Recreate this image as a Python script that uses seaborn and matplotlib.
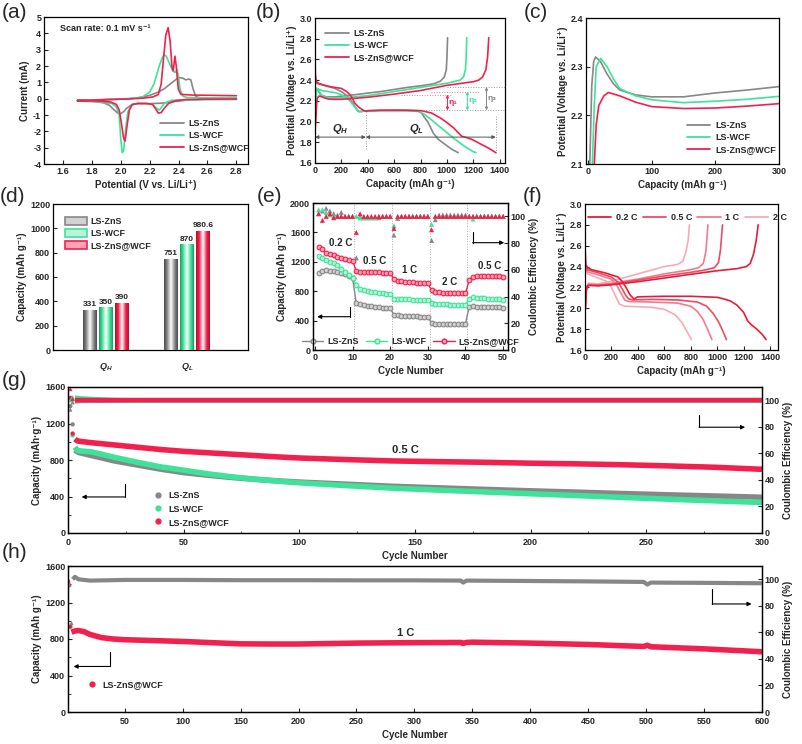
import numpy as np
import pandas as pd
import seaborn as sns
import matplotlib.pyplot as plt
from matplotlib.colors import LinearSegmentedColormap
from matplotlib.patches import Patch
from matplotlib.lines import Line2D
from matplotlib.ticker import MultipleLocator

# sample names and colours
samples = ["LS-ZnS", "LS-WCF", "LS-ZnS@WCF"]
GRAY, GREEN, RED = "#878787", "#3ee29a", "#f2204c"
GRAY_L, GREEN_L, RED_L = "#d2d2d2", "#b8f5d8", "#ffa3b4"
rate_labels = ["0.2 C", "0.5 C", "1 C", "2 C"]
RATE_COLORS = ["#e51d3a", "#ec4b62", "#f27b8d", "#f7aab6"]

# (a) CV loops, cathodic scan then anodic scan
cv_zns_v = [2.8, 2.6, 2.45, 2.35, 2.28, 2.2, 2.12, 2.07, 2.04, 2.02, 2.0, 1.98, 1.95, 1.92, 1.88, 1.8, 1.7,
            1.7, 1.9, 2.05, 2.12, 2.2, 2.26, 2.3, 2.35, 2.4, 2.43, 2.45, 2.47, 2.485, 2.5, 2.52, 2.56, 2.65, 2.8]
cv_zns_i = [0.0, -0.02, -0.1, -0.2, -0.28, -0.3, -0.28, -0.4, -0.6, -0.8, -0.92, -0.88, -0.65, -0.4, -0.25, -0.15, -0.1,
            -0.1, -0.05, 0.0, 0.05, 0.2, 0.4, 0.6, 0.95, 1.3, 1.25, 1.15, 1.2, 1.15, 0.6, 0.12, 0.03, 0.0, 0.0]
cv_wcf_v = [2.8, 2.5, 2.35, 2.3, 2.28, 2.265, 2.25, 2.22, 2.18, 2.12, 2.08, 2.05, 2.035, 2.02, 2.01, 2.0, 1.99, 1.97, 1.94, 1.85, 1.7,
            1.7, 1.9, 2.05, 2.15, 2.2, 2.23, 2.25, 2.27, 2.29, 2.3, 2.315, 2.33, 2.345, 2.36, 2.375, 2.39, 2.4, 2.41, 2.43, 2.46, 2.6, 2.8]
cv_wcf_i = [-0.05, -0.07, -0.1, -0.3, -0.55, -0.7, -0.6, -0.35, -0.3, -0.3, -0.35, -0.8, -1.8, -3.2, -3.3, -2.4, -1.0, -0.5, -0.3, -0.2, -0.15,
            -0.15, -0.06, -0.02, 0.1, 0.4, 0.9, 1.5, 2.1, 2.55, 2.7, 2.6, 2.3, 2.0, 1.7, 1.6, 1.8, 1.3, 0.6, 0.15, 0.07, 0.05, 0.05]
cv_ws_v = [2.8, 2.6, 2.45, 2.38, 2.33, 2.3, 2.28, 2.26, 2.24, 2.22, 2.18, 2.12, 2.08, 2.06, 2.045, 2.03, 2.02, 2.005, 1.99, 1.97, 1.93, 1.85, 1.7,
           1.7, 1.9, 2.05, 2.15, 2.22, 2.26, 2.28, 2.296, 2.312, 2.328, 2.342, 2.354, 2.363, 2.375, 2.384, 2.398, 2.416, 2.5, 2.65, 2.8]
cv_ws_i = [-0.02, -0.03, -0.05, -0.12, -0.3, -0.6, -0.85, -0.88, -0.6, -0.35, -0.3, -0.3, -0.35, -0.7, -1.6, -2.6, -2.4, -1.5, -0.7, -0.35, -0.2, -0.15, -0.12,
           -0.12, -0.06, -0.02, 0.03, 0.1, 0.25, 0.9, 2.45, 3.9, 4.35, 3.5, 2.0, 1.7, 2.6, 2.0, 0.6, 0.26, 0.22, 0.2, 0.18]

# (b)/(c) charge and discharge profiles at 0.2 C
chg_zns_q = [0, 3, 6, 9, 12, 20, 30, 40, 50, 75, 100, 150, 200, 250, 300, 400, 500, 600, 700, 800, 900, 950, 980, 995, 1000, 1005]
chg_zns_v = [1.95, 2.1, 2.26, 2.31, 2.32, 2.31, 2.285, 2.265, 2.252, 2.242, 2.238, 2.238, 2.246, 2.252, 2.259, 2.275, 2.29, 2.31, 2.33, 2.345, 2.365, 2.39, 2.43, 2.5, 2.62, 2.81]
chg_wcf_q = [0, 7, 10, 13, 20, 30, 40, 50, 75, 100, 150, 200, 250, 300, 400, 600, 800, 1000, 1100, 1125, 1140, 1146, 1150]
chg_wcf_v = [1.95, 2.1, 2.22, 2.3, 2.317, 2.3, 2.275, 2.255, 2.24, 2.232, 2.226, 2.229, 2.233, 2.239, 2.25, 2.29, 2.33, 2.37, 2.4, 2.43, 2.5, 2.62, 2.81]
chg_ws_q = [0, 10, 13, 17, 25, 32, 50, 75, 100, 150, 200, 250, 300, 400, 600, 800, 1000, 1200, 1240, 1270, 1295, 1308, 1317]
chg_ws_v = [1.9, 2.1, 2.18, 2.22, 2.24, 2.247, 2.24, 2.227, 2.218, 2.214, 2.215, 2.219, 2.224, 2.235, 2.265, 2.3, 2.35, 2.385, 2.4, 2.43, 2.5, 2.62, 2.81]
dis_zns_q = [0, 3, 10, 50, 100, 150, 200, 250, 280, 310, 330, 360, 500, 700, 780, 807, 830, 858, 896, 933, 996, 1040, 1085]
dis_zns_v = [2.42, 2.39, 2.37, 2.355, 2.34, 2.32, 2.29, 2.24, 2.19, 2.13, 2.095, 2.1, 2.105, 2.105, 2.1, 2.083, 2.04, 1.99, 1.89, 1.83, 1.77, 1.73, 1.70]
dis_wcf_q = [0, 3, 10, 50, 100, 150, 200, 250, 290, 320, 345, 400, 600, 780, 832, 870, 908, 984, 1060, 1135, 1198, 1220]
dis_wcf_v = [2.36, 2.33, 2.32, 2.30, 2.29, 2.28, 2.26, 2.22, 2.16, 2.11, 2.095, 2.105, 2.11, 2.105, 2.067, 2.03, 1.99, 1.91, 1.83, 1.76, 1.71, 1.70]
dis_ws_q = [0, 3, 10, 25, 50, 100, 150, 200, 240, 265, 285, 300, 330, 365, 385, 400, 500, 600, 700, 807, 883, 951, 1000, 1050, 1110, 1186, 1261, 1320, 1370]
dis_ws_v = [2.6, 2.45, 2.39, 2.37, 2.36, 2.34, 2.33, 2.32, 2.29, 2.26, 2.22, 2.18, 2.14, 2.11, 2.10, 2.105, 2.11, 2.11, 2.11, 2.105, 2.083, 2.034, 1.99, 1.94, 1.86, 1.83, 1.78, 1.74, 1.70]

# (d) plateau capacities
bar_group = ["QH", "QH", "QH", "QL", "QL", "QL"]
bar_sample = samples * 2
bar_cap = [331, 350, 390, 751, 870, 980.6]
bar_text = ["331", "350", "390", "751", "870", "980.6"]

# (e) rate performance
e_cycles = list(range(1, 51))
e_cap_zns = [1045, 1070, 1085, 1080, 1075, 1060, 1050, 1030, 1010, 975,
             640, 620, 610, 600, 595, 590, 580, 575, 570, 565,
             480, 470, 465, 462, 460, 458, 456, 455, 453, 452,
             365, 360, 355, 352, 350, 350, 350, 352, 355, 358,
             590, 592, 590, 588, 586, 585, 583, 582, 580, 578]
e_cap_wcf = [1285, 1250, 1225, 1200, 1180, 1150, 1100, 1060, 1020, 980,
             880, 830, 815, 805, 795, 790, 780, 775, 768, 760,
             700, 695, 692, 690, 688, 686, 684, 682, 680, 678,
             640, 630, 625, 622, 620, 618, 616, 614, 612, 610,
             700, 715, 712, 710, 705, 700, 698, 695, 690, 685]
e_cap_ws = [1400, 1370, 1320, 1300, 1290, 1270, 1250, 1240, 1230, 1215,
            1075, 1065, 1060, 1060, 1058, 1056, 1055, 1054, 1052, 1050,
            960, 945, 935, 930, 925, 920, 915, 912, 908, 905,
            810, 795, 785, 780, 778, 775, 773, 772, 770, 770,
            950, 1000, 1005, 1005, 1005, 1004, 1004, 1003, 1002, 1000]
e_ce_zns = [102, 104, 106, 104, 102, 101, 103, 100, 100, 100,
            69, 100, 99, 99, 99, 99, 99, 100, 100, 100,
            86, 98.5, 100, 100, 100, 100, 100, 100, 100, 100,
            82, 97.5, 101, 101, 101, 101, 101, 101, 101, 101,
            100, 100, 100, 100, 100, 100, 100, 100, 100, 100]
e_ce_wcf = [105, 105, 103, 101, 100, 100, 100, 100, 100, 100,
            100, 99, 99, 99, 99, 99, 100, 100, 100, 100,
            93, 100, 100, 100, 100, 100, 100, 100, 100, 100,
            94, 100, 100, 100, 100, 100, 100, 100, 100, 100,
            100, 98, 100, 100, 100, 100, 100, 100, 100, 100]
e_ce_ws = [102, 97, 100, 102, 99, 100, 100, 100, 100, 100,
           88, 102, 100, 100, 100, 100, 100, 100, 100, 100,
           91, 100, 100, 100, 100, 100, 100, 100, 100, 100,
           90, 100, 100, 100, 100, 100, 100, 100, 100, 100,
           100, 100, 100, 100, 100, 100, 100, 100, 100, 100]
e_rate_text = ["0.2 C", "0.5 C", "1 C", "2 C", "0.5 C"]
e_rate_x = [6.9, 15.9, 25.2, 35.8, 46.5]
e_rate_y = [1460, 1215, 1090, 930, 1143]

# (f) LS-ZnS@WCF profiles at different rates
f02_chg_q = [0, 8, 15, 30, 100, 200, 400, 600, 800, 1000, 1150, 1220, 1250, 1275, 1295, 1310]
f02_chg_v = [1.95, 2.15, 2.21, 2.22, 2.215, 2.225, 2.255, 2.29, 2.326, 2.36, 2.38, 2.40, 2.43, 2.52, 2.65, 2.80]
f02_dis_q = [0, 5, 20, 50, 150, 250, 280, 310, 340, 370, 400, 600, 800, 1000, 1050, 1100, 1150, 1200, 1230, 1260, 1300, 1340, 1370]
f02_dis_v = [2.62, 2.42, 2.39, 2.37, 2.34, 2.30, 2.26, 2.2, 2.13, 2.09, 2.11, 2.115, 2.115, 2.105, 2.09, 2.07, 2.03, 1.96, 1.88, 1.84, 1.80, 1.75, 1.70]
f05_chg_q = [0, 10, 25, 100, 200, 400, 600, 800, 900, 980, 1010, 1025, 1040]
f05_chg_v = [1.95, 2.18, 2.22, 2.22, 2.23, 2.27, 2.31, 2.345, 2.365, 2.39, 2.44, 2.56, 2.80]
f05_dis_q = [0, 5, 20, 100, 200, 250, 280, 310, 330, 360, 500, 700, 850, 920, 970, 1010, 1040, 1070]
f05_dis_v = [2.55, 2.40, 2.37, 2.34, 2.30, 2.25, 2.19, 2.12, 2.09, 2.08, 2.085, 2.08, 2.06, 2.02, 1.95, 1.87, 1.79, 1.70]
f1_chg_q = [0, 10, 25, 100, 200, 400, 600, 800, 860, 895, 915, 930]
f1_chg_v = [1.95, 2.19, 2.23, 2.225, 2.24, 2.28, 2.33, 2.37, 2.39, 2.43, 2.55, 2.80]
f1_dis_q = [0, 5, 20, 100, 200, 240, 270, 300, 330, 500, 700, 800, 850, 890, 920, 960]
f1_dis_v = [2.5, 2.38, 2.35, 2.32, 2.28, 2.22, 2.15, 2.08, 2.065, 2.06, 2.05, 2.02, 1.97, 1.90, 1.82, 1.70]
f2_chg_q = [0, 10, 25, 100, 200, 400, 600, 700, 740, 765, 780, 790]
f2_chg_v = [1.95, 2.2, 2.24, 2.235, 2.26, 2.33, 2.40, 2.42, 2.45, 2.55, 2.65, 2.80]
f2_dis_q = [0, 5, 20, 100, 160, 200, 230, 260, 300, 500, 600, 680, 730, 770, 805]
f2_dis_v = [2.45, 2.36, 2.33, 2.29, 2.26, 2.20, 2.12, 2.04, 2.02, 2.01, 1.99, 1.94, 1.87, 1.78, 1.70]

# (g) long cycling at 0.5 C
g_cycles = [1, 2, 3, 4, 5, 10, 20, 30, 40, 50, 60, 70, 80, 90, 100, 120, 140, 160, 180, 200, 220, 240, 260, 280, 300]
g_cap_zns = [1390, 1190, 910, 890, 880, 850, 790, 745, 700, 662, 635, 610, 590, 572, 558, 535, 512, 495, 478, 462, 448, 432, 418, 405, 392]
g_cap_wcf = [1460, 1070, 940, 905, 900, 890, 830, 775, 725, 688, 650, 618, 592, 570, 550, 520, 492, 470, 450, 430, 410, 390, 370, 352, 335]
g_cap_ws = [1480, 1090, 1030, 1010, 1005, 990, 965, 940, 915, 895, 880, 865, 850, 835, 822, 805, 790, 782, 775, 765, 758, 748, 735, 720, 698]
g_ce_zns = [93, 98.5, 99, 99.3, 99.5, 99.6, 99.6, 99.6, 99.6, 99.6, 99.6, 99.6, 99.6, 99.6, 99.6, 99.6, 99.6, 99.6, 99.6, 99.6, 99.6, 99.6, 99.6, 99.6, 99.6]
g_ce_wcf = [100, 102.3, 102, 101.8, 101.5, 101, 100.2, 100, 100, 100, 100, 100, 100, 100, 100, 100, 100, 100, 100, 100, 100, 100, 100, 100, 100]
g_ce_ws = [108.5, 101, 100, 100, 100, 100, 100, 100, 100, 100, 100, 100, 100, 100, 100, 100, 100, 100, 100, 100, 100, 100, 100, 100, 100]

# (h) long cycling at 1 C
h_cycles = [1, 2, 3, 4, 5, 7, 10, 15, 20, 30, 40, 50, 75, 100, 125, 150, 175, 200, 250, 300, 340, 342, 345, 350, 400, 450, 498, 501, 504, 550, 600]
h_cap_ws = [1430, 1390, 935, 875, 880, 888, 893, 880, 850, 815, 800, 792, 783, 773, 760, 747, 745, 745, 755, 760, 762, 752, 762, 765, 755, 740, 718, 732, 715, 692, 660]
h_ce_cycles = [1, 2, 4, 5, 7, 10, 20, 50, 100, 150, 200, 250, 300, 340, 342, 345, 400, 450, 498, 501, 504, 550, 600]
h_ce_ws = [97, 96, 67, 100, 101.8, 100, 99, 99.5, 99.5, 99.3, 99.3, 99.2, 99.2, 99, 97.5, 99, 98.7, 98.4, 98, 96, 97.5, 97.3, 97]

sns.set_style("ticks")
plt.rcParams["font.family"] = ["Liberation Sans", "DejaVu Sans"]
plt.rcParams["font.weight"] = "bold"
plt.rcParams["axes.labelweight"] = "bold"
plt.rcParams["axes.unicode_minus"] = False
plt.rcParams["mathtext.fontset"] = "custom"
plt.rcParams["mathtext.it"] = "Liberation Sans:italic:bold"
plt.rcParams["mathtext.rm"] = "Liberation Sans:bold"

W, H = 803, 744
fig = plt.figure(figsize=(W / 100, H / 100), dpi=100)


def box(l, t, r, b):
    return [l / W, 1 - b / H, (r - l) / W, (b - t) / H]


def style(ax, xlabel="", ylabel=""):
    ax.tick_params(direction="in", length=3, width=0.8, labelsize=6.5, pad=2)
    ax.tick_params(which="minor", direction="in", length=1.8, width=0.6)
    for sp in ax.spines.values():
        sp.set_linewidth(0.9)
        sp.set_color("black")
    ax.set_xlabel(xlabel, fontsize=7, labelpad=3)
    ax.set_ylabel(ylabel, fontsize=7, labelpad=2)


def line(ax, x, y, color, lw=1.2, **kw):
    sns.lineplot(x=x, y=y, sort=False, estimator=None, color=color, lw=lw, ax=ax, **kw)


def band(ax, x, y, color, start, lw, marker):
    # first cycles as loose points, the rest as a dense band of points
    sns.scatterplot(x=x[:start], y=y[:start], color=color, marker=marker, s=10, edgecolor="none", ax=ax)
    line(ax, x[start:], y[start:], color, lw=lw, solid_capstyle="butt")


def bent_arrow(ax, x0, y0, y1, x1):
    ax.plot([x0, x0], [y0, y1], color="black", lw=0.8)
    ax.annotate("", xy=(x1, y1), xytext=(x0, y1),
                arrowprops=dict(arrowstyle="-|>", lw=0.8, color="black", mutation_scale=6, shrinkA=0, shrinkB=0))


def line_legend(ax, colors, labels, **kw):
    handles = [Line2D([], [], color=c, lw=1.3) for c in colors]
    ax.legend(handles, labels, frameon=False, fontsize=6.5, handlelength=2.6, handletextpad=0.5,
              labelspacing=0.35, borderpad=0.2, **kw)


V_LABEL = "Potential (Voltage vs. Li/Li⁺)"
C_LABEL = "Capacity (mAh g⁻¹)"

# ---------------- (a)
ax = fig.add_axes(box(44, 17, 248, 164))
for v, i, c in [(cv_zns_v, cv_zns_i, GRAY), (cv_wcf_v, cv_wcf_i, GREEN), (cv_ws_v, cv_ws_i, RED)]:
    line(ax, v, i, c)
ax.set_xlim(1.47, 2.88)
ax.set_ylim(-4, 5)
ax.set_xticks(np.arange(1.6, 2.81, 0.2))
ax.set_yticks(range(-4, 6))
ax.text(0.08, 0.92, "Scan rate: 0.1 mV s⁻¹", transform=ax.transAxes, fontsize=6.5, va="center")
line_legend(ax, [GRAY, GREEN, RED], samples, loc="upper left", bbox_to_anchor=(0.54, 0.35))
style(ax, "Potential (V vs. Li/Li⁺)", "Current (mA)")

# ---------------- (b)
ax = fig.add_axes(box(315, 18, 505, 163))
for q, v, c in [(chg_zns_q, chg_zns_v, GRAY), (dis_zns_q, dis_zns_v, GRAY),
                (chg_wcf_q, chg_wcf_v, GREEN), (dis_wcf_q, dis_wcf_v, GREEN),
                (chg_ws_q, chg_ws_v, RED), (dis_ws_q, dis_ws_v, RED)]:
    line(ax, q, v, c)
dot = dict(colors="#9a9a9a", linestyles=":", lw=0.7)
ax.hlines(2.334, 1000, 1440, **dot)
ax.hlines(2.29, 880, 1250, **dot)
ax.hlines(2.26, 650, 1040, **dot)
ax.hlines(2.108, 820, 1440, **dot)
ax.vlines(385, 1.74, 2.10, **dot)
ax.vlines(1370, 1.70, 2.05, **dot)
for x, ytop, c, lab, tx in [(1004, 2.26, RED, "η₁", 1045), (1155, 2.29, GREEN, "η₂", 1195), (1300, 2.334, GRAY, "η₃", 1340)]:
    ax.annotate("", xy=(x, ytop), xytext=(x, 2.108),
                arrowprops=dict(arrowstyle="<|-|>", lw=0.7, color=c, mutation_scale=4, shrinkA=0, shrinkB=0))
    ax.text(tx, (ytop + 2.108) / 2, lab, color=c, fontsize=6, va="center", ha="center")
for x0, x1 in [(0, 385), (385, 1370)]:
    ax.annotate("", xy=(x1, 1.85), xytext=(x0, 1.85),
                arrowprops=dict(arrowstyle="<|-|>", lw=0.7, color="#555555", mutation_scale=5, shrinkA=0, shrinkB=0))
ax.text(190, 1.93, r"$Q_H$", fontsize=8, ha="center", va="center")
ax.text(770, 1.93, r"$Q_L$", fontsize=8, ha="center", va="center")
ax.set_xlim(0, 1440)
ax.set_ylim(1.6, 3.0)
ax.set_xticks(range(0, 1401, 200))
ax.set_yticks(np.arange(1.6, 3.01, 0.2))
line_legend(ax, [GRAY, GREEN, RED], samples, loc="upper left", bbox_to_anchor=(0.02, 0.97))
style(ax, C_LABEL, V_LABEL)

# ---------------- (c)
ax = fig.add_axes(box(586, 18, 779, 164))
for q, v, c in [(chg_zns_q, chg_zns_v, GRAY), (chg_wcf_q, chg_wcf_v, GREEN), (chg_ws_q, chg_ws_v, RED)]:
    line(ax, q, v, c)
ax.set_xlim(-3, 300)
ax.set_ylim(2.1, 2.4)
ax.set_xticks([0, 100, 200, 300])
ax.set_yticks([2.1, 2.2, 2.3, 2.4])
line_legend(ax, [GRAY, GREEN, RED], samples, loc="upper left", bbox_to_anchor=(0.49, 0.34))
style(ax, C_LABEL, V_LABEL)

# ---------------- (d)
ax = fig.add_axes(box(53, 204, 248, 350))
bar_df = pd.DataFrame({"group": bar_group, "sample": bar_sample, "cap": bar_cap})
sns.barplot(data=bar_df, x="group", y="cap", hue="sample", hue_order=samples,
            palette=[GRAY, GREEN, RED], width=0.6, gap=0.15, legend=False, ax=ax)
dark = {GRAY: "#4a4a4a", GREEN: "#1f9c63", RED: "#b3102e"}
for k, (cont, col) in enumerate(zip(ax.containers, [GRAY, GREEN, RED])):
    cmap = LinearSegmentedColormap.from_list("cyl", [(0, dark[col]), (0.22, col), (0.5, "#ffffff"),
                                                     (0.78, col), (1, dark[col])])
    for patch in cont:
        x0, w, h = patch.get_x(), patch.get_width(), patch.get_height()
        im = ax.imshow(np.linspace(0, 1, 64).reshape(1, -1), extent=[x0, x0 + w, 0, h],
                       aspect="auto", cmap=cmap, zorder=3)
        im.set_clip_path(patch)
    ax.bar_label(cont, labels=[bar_text[k], bar_text[k + 3]], fontsize=6, padding=1)
ax.set_xlim(-0.65, 1.75)
ax.set_ylim(0, 1200)
ax.set_yticks(range(0, 1201, 200))
ax.set_xticks([0, 1])
ax.set_xticklabels([r"$Q_H$", r"$Q_L$"], fontsize=8)
ax.legend([Patch(facecolor=l, edgecolor=c, lw=1.2) for l, c in zip([GRAY_L, GREEN_L, RED_L], [GRAY, GREEN, RED])],
          samples, frameon=False, fontsize=6.5, loc="upper left", bbox_to_anchor=(0.02, 0.97),
          handlelength=2.4, handleheight=1.1, labelspacing=0.3, handletextpad=0.4)
style(ax, "", C_LABEL)
ax.tick_params(axis="x", length=0, pad=8)

# ---------------- (e)
ax = fig.add_axes(box(313, 203, 508, 350))
ax2 = ax.twinx()
for xv in [10.5, 20.5, 30.5, 40.5]:
    ax.axvline(xv, color="#aaaaaa", ls=":", lw=0.7)
for cap, ce, c, cl in [(e_cap_zns, e_ce_zns, GRAY, GRAY_L), (e_cap_wcf, e_ce_wcf, GREEN, GREEN_L),
                       (e_cap_ws, e_ce_ws, RED, RED_L)]:
    line(ax, e_cycles, cap, c, lw=1.0, marker="o", markersize=3.4, markerfacecolor=cl, markeredgecolor=c,
         markeredgewidth=0.8)
    sns.scatterplot(x=e_cycles, y=ce, marker="^", s=13, color=c, edgecolor="none", ax=ax2)
for t, x, y in zip(e_rate_text, e_rate_x, e_rate_y):
    ax.text(x, y, t, fontsize=7, ha="center", va="center")
bent_arrow(ax, 9.2, 585, 453, 0.6)
bent_arrow(ax2, 41.9, 88.5, 80.3, 50.3)
ax.set_xlim(-0.5, 51.3)
ax.set_ylim(0, 2000)
ax.set_xticks(range(0, 51, 10))
ax.set_yticks(range(0, 2001, 400))
ax2.set_ylim(0, 110)
ax2.set_yticks(range(0, 101, 20))
ax.legend([Line2D([], [], color=c, lw=1.0, marker="o", ms=3.4, mfc=cl, mec=c) for c, cl in
           [(GRAY, GRAY_L), (GREEN, GREEN_L), (RED, RED_L)]], samples, ncol=3, frameon=False, fontsize=6.5,
          loc="lower center", bbox_to_anchor=(0.5, -0.03), handlelength=2.4, columnspacing=0.8, handletextpad=0.4)
style(ax, "Cycle Number", C_LABEL)
style(ax2, "", "Coulombic Efficiency (%)")

# ---------------- (f)
ax = fig.add_axes(box(585, 204, 778, 350))
f_sets = [(f02_chg_q, f02_chg_v, f02_dis_q, f02_dis_v), (f05_chg_q, f05_chg_v, f05_dis_q, f05_dis_v),
          (f1_chg_q, f1_chg_v, f1_dis_q, f1_dis_v), (f2_chg_q, f2_chg_v, f2_dis_q, f2_dis_v)]
for (cq, cv, dq, dv), c in zip(f_sets[::-1], RATE_COLORS[::-1]):
    line(ax, cq, cv, c)
    line(ax, dq, dv, c)
ax.set_xlim(0, 1460)
ax.set_ylim(1.6, 3.0)
ax.set_xticks(range(0, 1401, 200))
ax.set_yticks(np.arange(1.6, 3.01, 0.2))
line_legend(ax, RATE_COLORS, rate_labels, ncol=4, loc="upper center", bbox_to_anchor=(0.53, 0.98),
            columnspacing=0.6)
style(ax, C_LABEL, V_LABEL)

# ---------------- (g)
ax = fig.add_axes(box(68, 387, 762, 533))
ax2 = ax.twinx()
for cap, ce, c in [(g_cap_zns, g_ce_zns, GRAY), (g_cap_wcf, g_ce_wcf, GREEN), (g_cap_ws, g_ce_ws, RED)]:
    band(ax, g_cycles, cap, c, 2, 4.0, "o")
    band(ax2, g_cycles, ce, c, 2, 3.2, "^")
ax.text(146, 905, "0.5 C", fontsize=8, ha="center", va="center")
bent_arrow(ax, 24.6, 541, 395, 5.9)
bent_arrow(ax2, 272.8, 89, 79.7, 292.7)
ax.set_xlim(0, 300)
ax.set_ylim(0, 1600)
ax.set_xticks(range(0, 301, 50))
ax.xaxis.set_minor_locator(MultipleLocator(25))
ax.set_yticks(range(0, 1601, 400))
ax.yaxis.set_minor_locator(MultipleLocator(200))
ax2.set_ylim(0, 110)
ax2.set_yticks(range(0, 101, 20))
ax.legend([Line2D([], [], ls="", marker="o", ms=3.5, color=c) for c in [GRAY, GREEN, RED]], samples,
          frameon=False, fontsize=6.5, loc="upper left", bbox_to_anchor=(0.11, 0.34), handlelength=1.2,
          labelspacing=0.45, handletextpad=0.6)
style(ax, "Cycle Number", "Capacity (mAh·g⁻¹)")
style(ax2, "", "Coulombic Efficiency (%)")
ax.tick_params(axis="x", pad=3.5)

# ---------------- (h)
ax = fig.add_axes(box(68, 566, 762, 712))
ax2 = ax.twinx()
band(ax, h_cycles, h_cap_ws, RED, 3, 4.0, "o")
band(ax2, h_ce_cycles, h_ce_ws, GRAY, 3, 3.0, "^")
ax.text(292, 864, "1 C", fontsize=8, ha="center", va="center")
bent_arrow(ax, 37, 663, 499, 5.8)
bent_arrow(ax2, 557, 92.5, 81.4, 591)
ax.set_xlim(1, 600)
ax.set_ylim(0, 1600)
ax.set_xticks(range(50, 601, 50))
ax.set_yticks(range(0, 1601, 400))
ax.yaxis.set_minor_locator(MultipleLocator(200))
ax2.set_ylim(0, 110)
ax2.set_yticks(range(0, 101, 20))
ax.legend([Line2D([], [], ls="", marker="o", ms=3.5, color=RED)], ["LS-ZnS@WCF"], frameon=False, fontsize=6.5,
          loc="center left", bbox_to_anchor=(0.015, 0.185), handlelength=1.2, handletextpad=0.6)
style(ax, "Cycle Number", "Capacity (mAh g⁻¹)")
style(ax2, "", "Coulombic Efficiency (%)")
ax.tick_params(axis="x", pad=3.5)

# panel letters
for lab, x, y in [("(a)", 2, 12), ("(b)", 256, 12), ("(c)", 524, 12), ("(d)", 0, 196), ("(e)", 257, 196),
                  ("(f)", 523, 196), ("(g)", 2, 380), ("(h)", 2, 553)]:
    fig.text(x / W, 1 - y / H, lab, fontsize=15, fontweight="normal", va="center", ha="left")

fig.savefig("out.png", dpi=100)
